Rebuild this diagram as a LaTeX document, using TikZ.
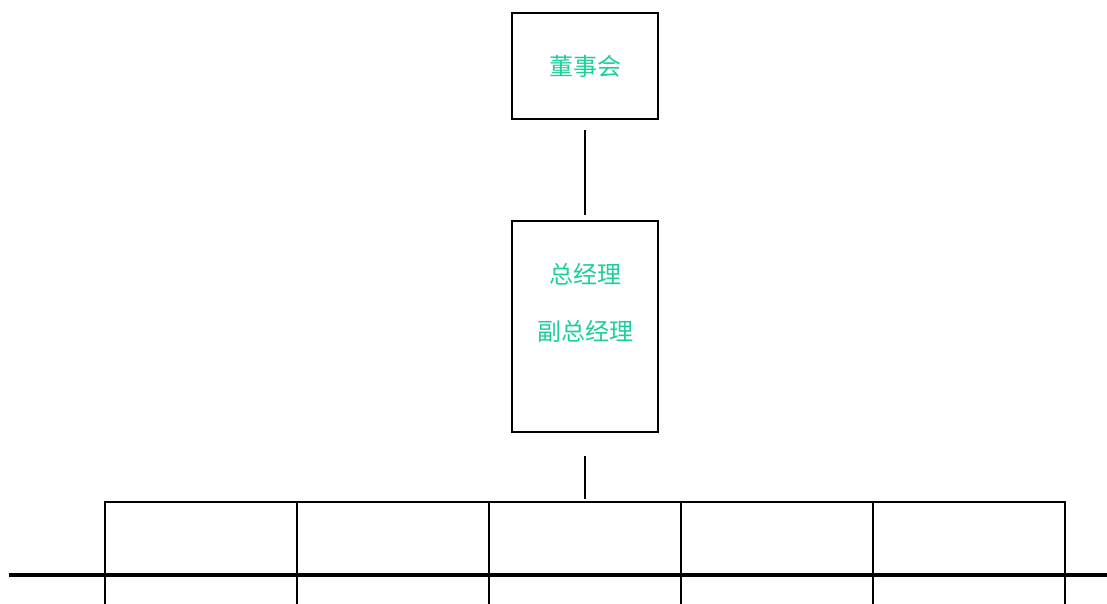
\documentclass[tikz,border=0pt]{standalone}
\usepackage{fontspec}
\newfontfamily\cjk{Noto Sans CJK SC}
\definecolor{txtgreen}{RGB}{28,206,156}
\begin{document}
\begin{tikzpicture}[x=1pt,y=-1pt,
  box/.style={draw=black,line width=1.6pt,minimum width=146pt,inner sep=0pt,outer sep=0pt,anchor=north west,
    font=\cjk\fontsize{24}{28}\selectfont,text=txtgreen,align=center},
  lbl/.style={font=\cjk\fontsize{24}{28}\selectfont,text=txtgreen},
  cell/.style={draw=black,line width=1.6pt,minimum width=192pt,minimum height=130pt,inner sep=0pt,outer sep=0pt,anchor=north west},
  link/.style={line width=1.8pt}]
\useasboundingbox (0,0) rectangle (1107,603);
\clip (0,0) rectangle (1107,603);
\node[box,minimum height=106pt] (board) at (512,13) {董事会};
\node[box,minimum height=211pt] (gm) at (512,221) {};
\node[lbl] (gmt) at (585,274) {总经理};
\node[lbl] (dgmt) at (585,331) {副总经理};
\foreach \i/\x in {1/105,2/297,3/489,4/681,5/873}{
  \node[cell] (c\i) at (\x,502) {};
}
\draw[link,shorten <=11pt,shorten >=6pt] (board.south) -- (gm.north);
\coordinate (rowtop) at (gm.south |- c3.north);
\draw[link,shorten <=24pt,shorten >=3pt] (gm.south) -- (rowtop);
\coordinate (hl) at (9,575);
\coordinate (hr) at (1107,575);
\draw[line width=3.2pt] (hl) -- (hr);
\end{tikzpicture}
\end{document}
